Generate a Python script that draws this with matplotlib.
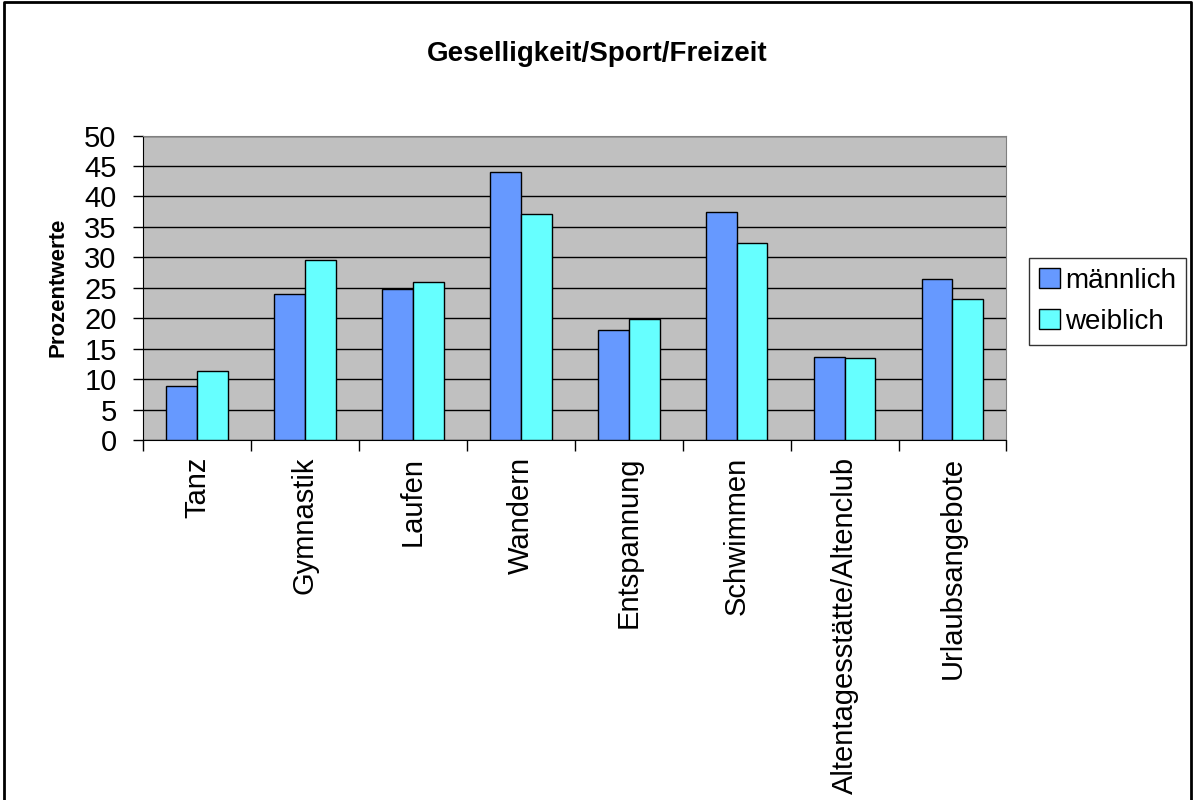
import numpy as np
import matplotlib
matplotlib.use('Agg')
import matplotlib.pyplot as plt
from matplotlib.lines import Line2D

plt.rcParams['font.family'] = ['Liberation Sans', 'DejaVu Sans']

# Daten
kategorien = ['Tanz', 'Gymnastik', 'Laufen', 'Wandern', 'Entspannung',
              'Schwimmen', 'Altentagesstätte/Altenclub', 'Urlaubsangebote']
maennlich = [8.8, 23.9, 24.8, 44.0, 18.0, 37.4, 13.7, 26.5]
weiblich = [11.4, 29.5, 25.9, 37.2, 19.9, 32.4, 13.4, 23.2]
y_ticks = [0, 5, 10, 15, 20, 25, 30, 35, 40, 45, 50]

fig = plt.figure(figsize=(11.95, 8), dpi=100)
ax = fig.add_axes([0.1197, 0.45, 0.7225, 0.3805])
ax.set_facecolor('#C0C0C0')

x = np.arange(len(kategorien))
w = 0.286
ax.bar(x - w/2, maennlich, w, color='#6699FF', edgecolor='black', linewidth=1, label='männlich', zorder=3)
ax.bar(x + w/2, weiblich, w, color='#66FFFF', edgecolor='black', linewidth=1, label='weiblich', zorder=3)

ax.set_xlim(-0.5, len(kategorien) - 0.5)
ax.set_ylim(0, 50)
ax.set_yticks(y_ticks)
ax.yaxis.grid(True, color='black', linewidth=1, zorder=1)
ax.set_axisbelow(True)

ax.set_xticks(x)
ax.set_xticklabels(kategorien, rotation=90, fontsize=21)
ax.tick_params(axis='x', which='major', length=0, pad=12)
ax.set_xticks(np.arange(-0.5, len(kategorien)), minor=True)
ax.tick_params(axis='x', which='minor', length=8, width=1, direction='out')
ax.tick_params(axis='y', labelsize=21, length=7, width=1, direction='out', pad=12)

for s in ['top', 'right']:
    ax.spines[s].set_color('#808080')
ax.spines['left'].set_color('black')
ax.spines['bottom'].set_color('black')

ax.set_ylabel('Prozentwerte', fontsize=16, fontweight='bold', va='center')
ax.yaxis.set_label_coords(-(143 - 58) / 863, 0.5)
fig.text(0.5, 1 - 54/800, 'Geselligkeit/Sport/Freizeit', ha='center', va='center',
         fontsize=20, fontweight='bold')

leg = fig.legend(loc='upper left', bbox_to_anchor=(1029/1195, 1 - 258/800), fontsize=20,
                 frameon=True, fancybox=False, edgecolor='black', borderpad=0.35,
                 handlelength=0.75, handleheight=0.75, handletextpad=0.2, labelspacing=0.55,
                 borderaxespad=0)
leg.get_frame().set_linewidth(1)

# Rahmen um die Grafik
fig.add_artist(Line2D([0.003, 0.003, 0.997, 0.997], [0, 0.997, 0.997, 0], color='black',
                      linewidth=2, transform=fig.transFigure))

fig.savefig('out.png', dpi=100)
